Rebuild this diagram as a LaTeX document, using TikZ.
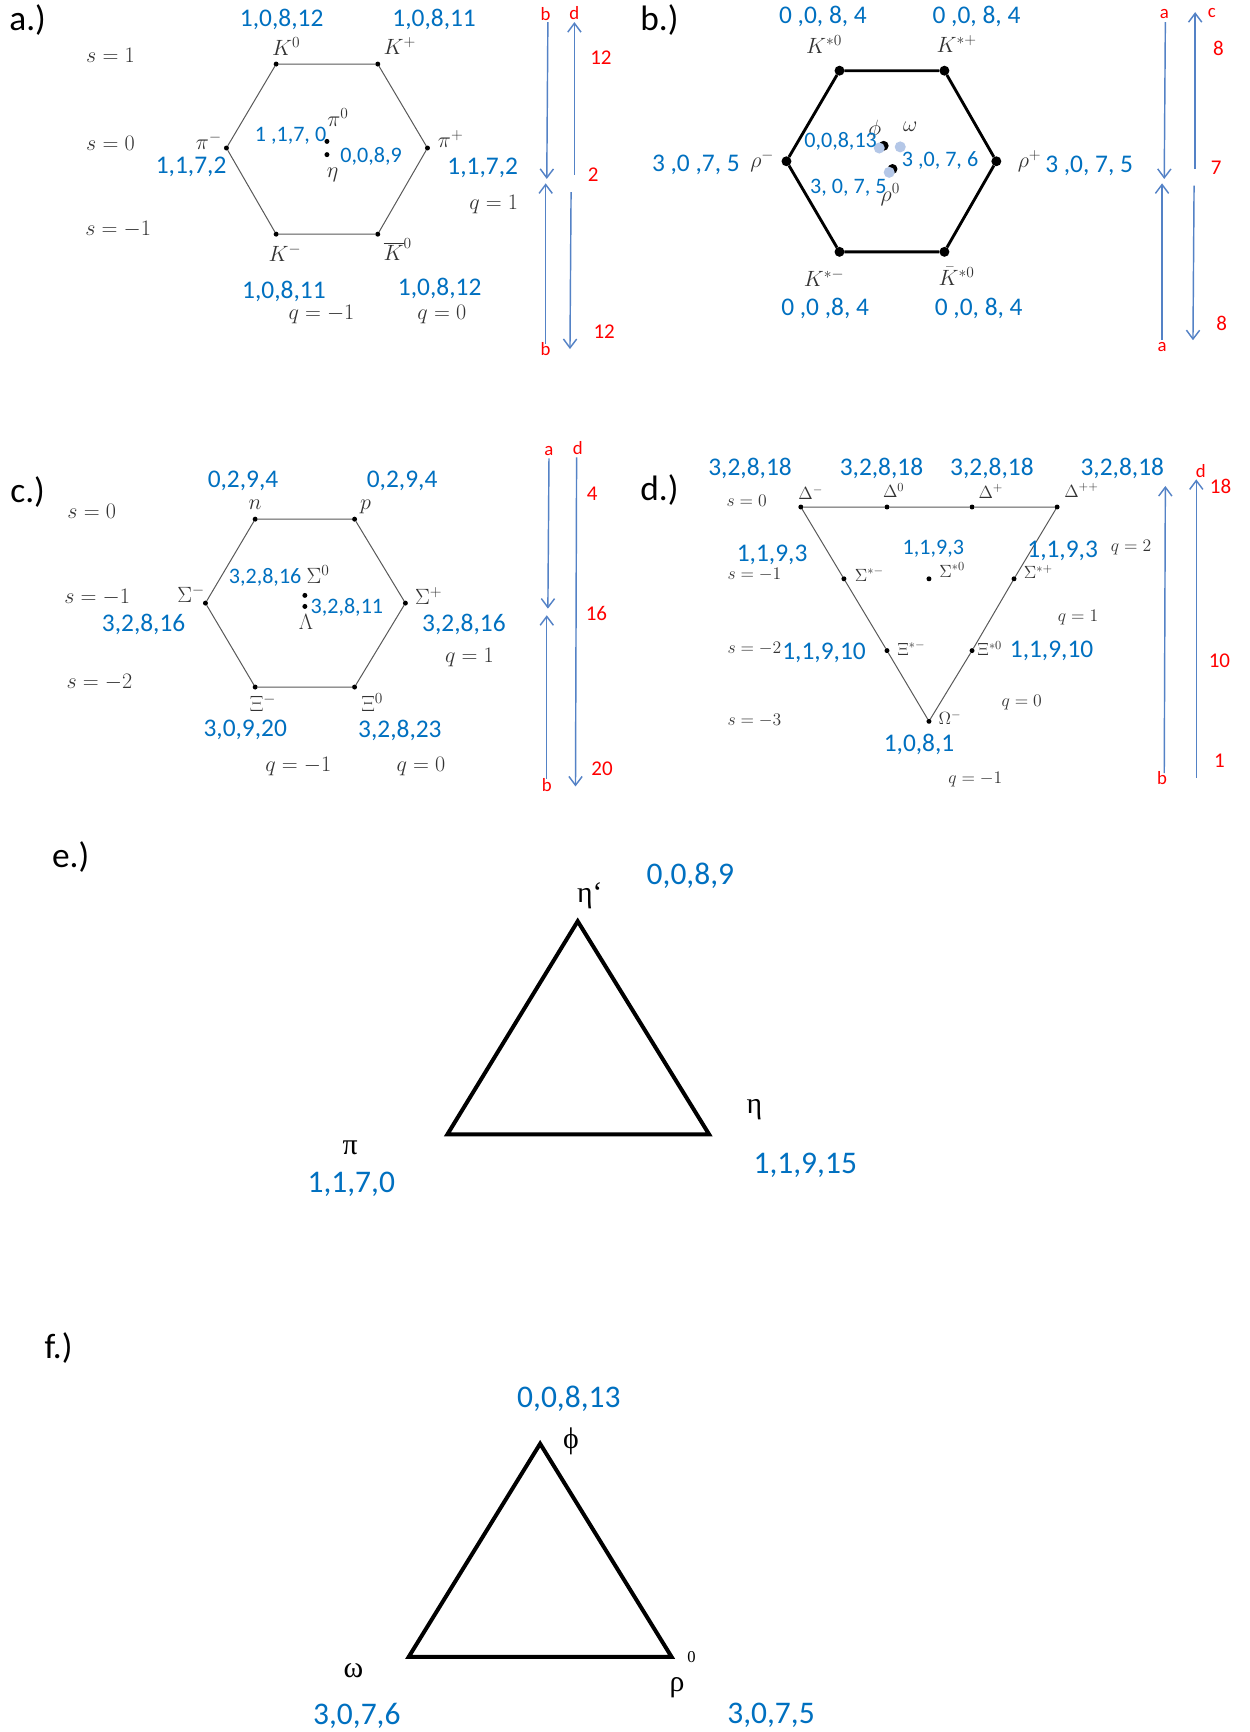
\RequirePackage{fix-cm}
\documentclass[tikz,border=0pt]{standalone}
\usepackage{fontspec}
\usetikzlibrary{arrows.meta}
\newfontfamily\calfnt{Carlito}
\newfontfamily\tmsfnt{Liberation Serif}
\definecolor{lblue}{RGB}{0,112,192}
\definecolor{ablue}{RGB}{84,130,198}
\definecolor{pale}{RGB}{180,199,231}
\tikzset{
 every node/.style={inner sep=0pt, outer sep=0pt},
 bl/.style={text=lblue, font=\calfnt\fontsize{23}{23}\selectfont},
 blc/.style={text=lblue, font=\calfnt\fontsize{20}{20}\selectfont},
 ble/.style={text=lblue, font=\calfnt\fontsize{28.5}{28.5}\selectfont},
 rd/.style={text=red, font=\calfnt\fontsize{19}{19}\selectfont},
 rl/.style={text=red, font=\calfnt\fontsize{17}{17}\selectfont},
 pl/.style={font=\calfnt\fontsize{32}{32}\selectfont},
 mt/.style={text=black!80, font=\fontsize{20}{20}\selectfont},
 mts/.style={text=black!80, font=\fontsize{16}{16}\selectfont},
 gk/.style={font=\tmsfnt\fontsize{27}{27}\selectfont},
 vtx/.style={circle, fill=black, minimum size=4.5pt},
 bigvtx/.style={circle, fill=black, minimum size=9pt},
 edgea/.style={draw=black!65, line width=0.9pt},
 edgeb/.style={draw=black, line width=2.6pt},
 edgee/.style={draw=black, line width=3.6pt},
 arr/.style={draw=ablue, line width=1.3pt, -{Straight Barb[length=8pt,width=12pt]}},
}
\begin{document}
\begin{tikzpicture}[x=1pt,y=-1pt]
\useasboundingbox[fill=white] (0,0) rectangle (1131,1568);
% ================= panel a =================
\node[pl] (la) at (25,18) {a.)};
\node[bl] (a_b1) at (255,18) {1,0,8,12};
\node[bl] (a_b2) at (393,18) {1,0,8,11};
\node[mt] (a_k0) at (259,42) {$K^0$};
\node[mt] (a_kp) at (362,42) {$K^+$};
\node[mt] (a_s1) at (100,50) {$s=1$};
\node[mt] (a_s0) at (100,130) {$s=0$};
\node[mt] (a_sm) at (107,208) {$s=-1$};
\node[vtx] (a1) at (250,58) {};
\node[vtx] (a2) at (342,58) {};
\node[vtx] (a3) at (387,134) {};
\node[vtx] (a4) at (342,212) {};
\node[vtx] (a5) at (250,212) {};
\node[vtx] (a6) at (205,134) {};
\draw[edgea] (a1) -- (a2) -- (a3) -- (a4) -- (a5) -- (a6) -- (a1);
\node[mt] (a_pim) at (189,128) {$\pi^-$};
\node[bl] (a_b3) at (173,151) {1,1,7,2};
\node[mt] (a_pip) at (408,126) {$\pi^+$};
\node[bl] (a_b4) at (437,152) {1,1,7,2};
\node[mt] (a_pi0) at (306,106) {$\pi^0$};
\node[blc] (a_b5) at (263,123) {1 ,1,7, 0};
\node[vtx] (a7) at (296,128) {};
\node[vtx] (a8) at (296,140) {};
\node[blc] (a_b6) at (336,142) {0,0,8,9};
\node[mt] (a_eta) at (301,158) {$\eta$};
\node[mt] (a_q1) at (447,185) {$q=1$};
\node[mt] (a_km) at (258,229) {$K^-$};
\node[mt] (a_kb) at (360,226) {$\overline{K}^0$};
\node[bl] (a_b7) at (257,264) {1,0,8,11};
\node[bl] (a_b8) at (398,261) {1,0,8,12};
\node[mt] (a_qm) at (291,285) {$q=-1$};
\node[mt] (a_q0) at (400,285) {$q=0$};
\node[rl] (a_r1) at (494,13) {b};
\node[rl] (a_r2) at (494,316) {b};
\node[rl] (a_r3) at (520,12) {d};
\node[rd] (a_n1) at (544,52) {12};
\node[rd] (a_n2) at (537,158) {2};
\node[rd] (a_n3) at (547,300) {12};
\coordinate (a_c1) at (496,20); \coordinate (a_c2) at (495,162);
\coordinate (a_c3) at (494,311); \coordinate (a_c4) at (494,166);
\coordinate (a_c5) at (520,158); \coordinate (a_c6) at (520,20);
\coordinate (a_c7) at (517,174); \coordinate (a_c8) at (516,316);
\draw[arr] (a_c1) -- (a_c2);
\draw[arr] (a_c3) -- (a_c4);
\draw[arr] (a_c5) -- (a_c6);
\draw[arr] (a_c7) -- (a_c8);
% ================= panel b =================
\node[pl] (lb) at (597,18) {b.)};
\node[bl] (b_b1) at (745,15) {0 ,0, 8, 4};
\node[bl] (b_b2) at (884,15) {0 ,0, 8, 4};
\node[mt] (b_k0) at (746,40) {$K^{*0}$};
\node[mt] (b_kp) at (866,40) {$K^{*+}$};
\node[bigvtx] (b1) at (760,64) {};
\node[bigvtx] (b2) at (855,64) {};
\node[bigvtx] (b3) at (902,146) {};
\node[bigvtx] (b4) at (855,228) {};
\node[bigvtx] (b5) at (760,228) {};
\node[bigvtx] (b6) at (712,146) {};
\draw[edgeb] (b1) -- (b2) -- (b3) -- (b4) -- (b5) -- (b6) -- (b1);
\node[bl] (b_b3) at (630,149) {3 ,0 ,7, 5};
\node[mt] (b_rm) at (690,146) {$\rho^-$};
\node[mt] (b_rp) at (932,146) {$\rho^+$};
\node[bl] (b_b4) at (986,150) {3 ,0, 7, 5};
\node[mt] (b_phi) at (792,118) {$\phi$};
\node[mt] (b_om) at (824,115) {$\omega$};
\node[circle, fill=black, minimum size=9pt] (b7k) at (800,132) {};
\node[circle, fill=pale, minimum size=10pt] (b7) at (796,134) {};
\node[circle, fill=pale, minimum size=10pt] (b8) at (815,133) {};
\node[circle, fill=black, minimum size=9pt] (b9k) at (808,153) {};
\node[circle, fill=pale, minimum size=10pt] (b9) at (805,156) {};
\node[blc] (b_b5) at (761,128) {0,0,8,13};
\node[blc] (b_b6) at (851,145) {3 ,0, 7, 6};
\node[blc] (b_b7) at (768,170) {3, 0, 7, 5};
\node[mt] (b_r0) at (806,176) {$\rho^0$};
\node[mt] (b_km) at (746,252) {$K^{*-}$};
\node[mt] (b_kb) at (866,250) {$\bar{K}^{*0}$};
\node[bl] (b_b8) at (747,279) {0 ,0 ,8, 4};
\node[bl] (b_b9) at (886,279) {0 ,0, 8, 4};
\node[rl] (b_r1) at (1054,13) {a};
\node[rl] (b_r2) at (1052,314) {a};
\node[rl] (b_r3) at (1097,12) {c};
\node[rd] (b_n1) at (1103,44) {8};
\node[rd] (b_n2) at (1101,152) {7};
\node[rd] (b_n3) at (1106,293) {8};
\coordinate (b_c1) at (1055,20); \coordinate (b_c2) at (1054,162);
\coordinate (b_c3) at (1052,308); \coordinate (b_c4) at (1052,166);
\coordinate (b_c5) at (1082,153); \coordinate (b_c6) at (1082,11);
\coordinate (b_c7) at (1081,168); \coordinate (b_c8) at (1080,308);
\draw[arr] (b_c1) -- (b_c2);
\draw[arr] (b_c3) -- (b_c4);
\draw[arr] (b_c5) -- (b_c6);
\draw[arr] (b_c7) -- (b_c8);
% ================= panel c =================
\node[pl] (lc) at (25,445) {c.)};
\node[bl] (c_b1) at (220,435) {0,2,9,4};
\node[bl] (c_b2) at (364,435) {0,2,9,4};
\node[mt] (c_n) at (231,457) {$n$};
\node[mt] (c_p) at (331,459) {$p$};
\node[mt] (c_s0) at (83,463) {$s=0$};
\node[mt] (c_s1) at (88,541) {$s=-1$};
\node[mt] (c_s2) at (90,618) {$s=-2$};
\node[vtx] (c1) at (231,470) {};
\node[vtx] (c2) at (321,470) {};
\node[vtx] (c3) at (367,546) {};
\node[vtx] (c4) at (321,622) {};
\node[vtx] (c5) at (231,622) {};
\node[vtx] (c6) at (186,546) {};
\draw[edgea] (c1) -- (c2) -- (c3) -- (c4) -- (c5) -- (c6) -- (c1);
\node[mt] (c_sgm) at (173,538) {$\Sigma^-$};
\node[bl] (c_b3) at (130,565) {3,2,8,16};
\node[mt] (c_sgp) at (388,540) {$\Sigma^+$};
\node[bl] (c_b4) at (420,565) {3,2,8,16};
\node[blc] (c_b5) at (240,523) {3,2,8,16};
\node[mt] (c_sg0) at (288,520) {$\Sigma^0$};
\node[vtx] (c7) at (276,539) {};
\node[vtx] (c8) at (276,549) {};
\node[blc] (c_b6) at (314,550) {3,2,8,11};
\node[mt] (c_lam) at (277,563) {$\Lambda$};
\node[mt] (c_q1) at (425,595) {$q=1$};
\node[mt] (c_xm) at (238,636) {$\Xi^-$};
\node[mt] (c_x0) at (337,636) {$\Xi^0$};
\node[bl] (c_b7) at (222,661) {3,0,9,20};
\node[bl] (c_b8) at (362,661) {3,2,8,23};
\node[mt] (c_qm) at (270,694) {$q=-1$};
\node[mt] (c_q0) at (381,694) {$q=0$};
\node[rl] (c_r1) at (497,408) {a};
\node[rl] (c_r2) at (495,711) {b};
\node[rl] (c_r3) at (523,406) {d};
\node[rd] (c_n1) at (536,447) {4};
\node[rd] (c_n2) at (540,555) {16};
\node[rd] (c_n3) at (545,696) {20};
\coordinate (c_c1) at (497,415); \coordinate (c_c2) at (496,551);
\coordinate (c_c3) at (495,705); \coordinate (c_c4) at (495,557);
\coordinate (c_c5) at (522,414); \coordinate (c_c6) at (521,712);
\draw[arr] (c_c1) -- (c_c2);
\draw[arr] (c_c3) -- (c_c4);
\draw[arr] (c_c5) -- (c_c6);
% ================= panel d =================
\node[pl] (ld) at (597,444) {d.)};
\node[bl] (d_b1) at (679,424) {3,2,8,18};
\node[bl] (d_b2) at (798,424) {3,2,8,18};
\node[bl] (d_b3) at (898,424) {3,2,8,18};
\node[bl] (d_b4) at (1016,424) {3,2,8,18};
\node[mts] (d_s0) at (676,453) {$s=0$};
\node[mts] (d_s1) at (683,520) {$s=-1$};
\node[mts] (d_s2) at (683,587) {$s=-2$};
\node[mts] (d_s3) at (683,652) {$s=-3$};
\node[vtx] (d1) at (725,459) {};
\node[vtx] (d2) at (803,459) {};
\node[vtx] (d3) at (880,459) {};
\node[vtx] (d4) at (957,459) {};
\node[vtx] (d5) at (764,524) {};
\node[vtx] (d6) at (841,524) {};
\node[vtx] (d7) at (918,524) {};
\node[vtx] (d8) at (803,589) {};
\node[vtx] (d9) at (880,589) {};
\node[vtx] (d10) at (841,653) {};
\draw[edgea] (d1) -- (d2) -- (d3) -- (d4) -- (d7) -- (d9) -- (d10) -- (d8) -- (d5) -- (d1);
\node[mts] (d_dm) at (734,446) {$\Delta^-$};
\node[mts] (d_d0) at (809,444) {$\Delta^0$};
\node[mts] (d_dp) at (897,445) {$\Delta^+$};
\node[mts] (d_dpp) at (979,444) {$\Delta^{++}$};
\node[mts] (d_sm) at (787,520) {$\Sigma^{*-}$};
\node[mts] (d_s0b) at (862,516) {$\Sigma^{*0}$};
\node[mts] (d_sp) at (940,518) {$\Sigma^{*+}$};
\node[bl] (d_b5) at (699,502) {1,1,9,3};
\node[blc] (d_b6) at (845,497) {1,1,9,3};
\node[bl] (d_b7) at (962,499) {1,1,9,3};
\node[mts] (d_q2) at (1024,496) {$q=2$};
\node[mts] (d_xm) at (825,587) {$\Xi^{*-}$};
\node[mts] (d_x0) at (896,587) {$\Xi^{*0}$};
\node[bl] (d_b8) at (746,591) {1,1,9,10};
\node[bl] (d_b9) at (952,589) {1,1,9,10};
\node[mts] (d_q1) at (976,559) {$q=1$};
\node[mts] (d_q0) at (925,636) {$q=0$};
\node[mts] (d_qm) at (883,706) {$q=-1$};
\node[mts] (d_om) at (860,650) {$\Omega^-$};
\node[bl] (d_b10) at (832,674) {1,0,8,1};
\node[rl] (d_r1) at (1052,704) {b};
\node[rl] (d_r2) at (1087,426) {d};
\node[rd] (d_n1) at (1105,440) {18};
\node[rd] (d_n2) at (1104,598) {10};
\node[rd] (d_n3) at (1104,689) {1};
\coordinate (d_c1) at (1054,700); \coordinate (d_c2) at (1055,440);
\coordinate (d_c3) at (1083,704); \coordinate (d_c4) at (1083,434);
\draw[arr] (d_c1) -- (d_c2);
\draw[arr] (d_c3) -- (d_c4);
% ================= panel e =================
\node[pl] (le) at (64,776) {e.)};
\coordinate (e1) at (523,834);
\coordinate (e2) at (642,1027);
\coordinate (e3) at (405,1027);
\draw[edgee] (e1) -- (e2) -- (e3) -- cycle;
\node[gk] (e_etap) at (534,811) {η‘};
\node[ble] (e_b1) at (625,793) {0,0,8,9};
\node[gk] (e_eta) at (683,1005) {η};
\node[gk] (e_pi) at (317,1039) {π};
\node[ble] (e_b2) at (318,1072) {1,1,7,0};
\node[ble] (e_b3) at (729,1055) {1,1,9,15};
% ================= panel f =================
\node[pl] (lf) at (53,1220) {f.)};
\coordinate (f1) at (489,1307);
\coordinate (f2) at (608,1500);
\coordinate (f3) at (370,1500);
\draw[edgee] (f1) -- (f2) -- (f3) -- cycle;
\node[ble] (f_b1) at (515,1266) {0,0,8,13};
\node[gk] (f_phi) at (517,1305) {ϕ};
\node[font=\tmsfnt\fontsize{15}{15}\selectfont] (f_sup) at (626,1500) {0};
\node[gk] (f_rho) at (613,1528) {ρ};
\node[gk] (f_om) at (320,1512) {ω};
\node[ble] (f_b2) at (323,1553) {3,0,7,6};
\node[ble] (f_b3) at (698,1553) {3,0,7,5};
\end{tikzpicture}
\end{document}
